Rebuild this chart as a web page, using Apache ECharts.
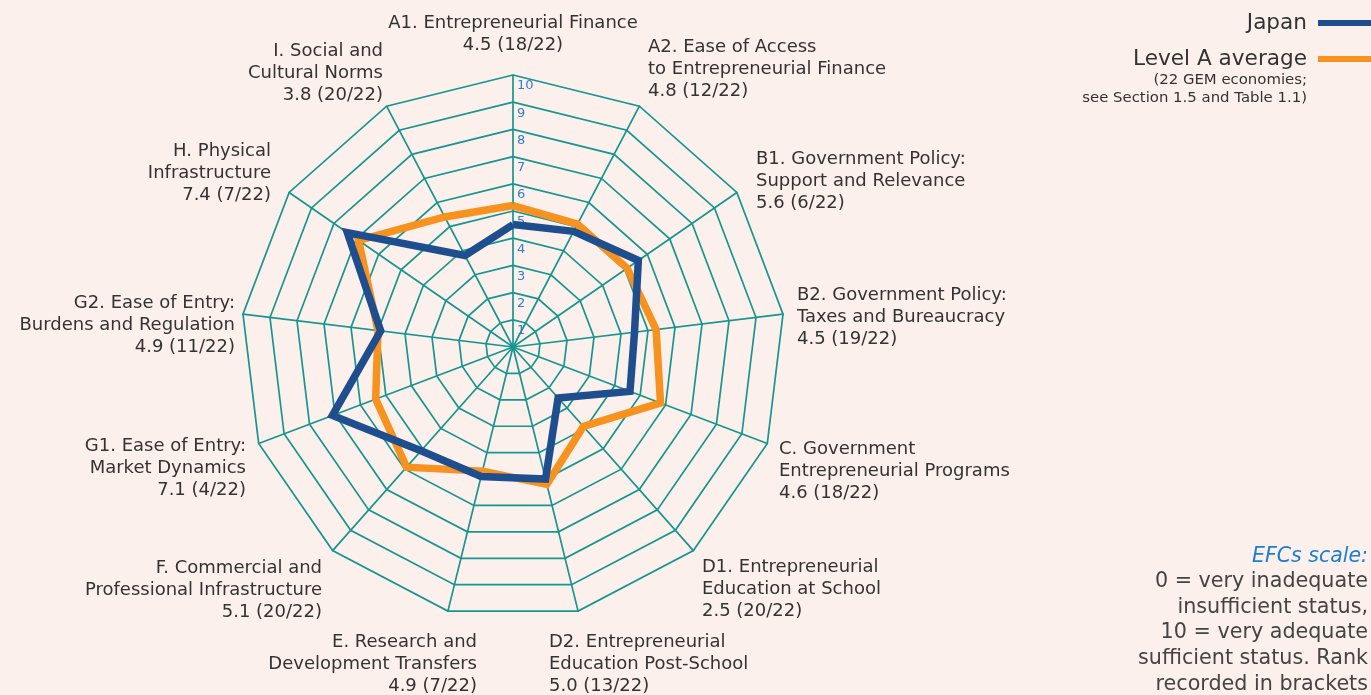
<!DOCTYPE html>
<html lang="en">
<head>
<meta charset="UTF-8">
<title>Japan EFCs</title>
<script src="https://cdn.jsdelivr.net/npm/echarts@6/dist/echarts.min.js"></script>
<style>
  html, body { margin: 0; padding: 0; background: #fcf0ec; }
  #main { width: 1371px; height: 695px; }
</style>
</head>
<body>
<div id="main"></div>
<script>
// framework conditions, clockwise from the top
var efcs = ['A1', 'A2', 'B1', 'B2', 'C', 'D1', 'D2', 'E', 'F', 'G1', 'G2', 'H', 'I'];
var japan = [4.5, 4.8, 5.6, 4.5, 4.6, 2.5, 5.0, 4.9, 5.1, 7.1, 4.9, 7.4, 3.8];
var levelA = [5.2, 5.1, 5.1, 5.3, 5.8, 3.9, 5.2, 4.7, 5.9, 5.4, 5.0, 6.9, 5.4];
var ringTicks = [1, 2, 3, 4, 5, 6, 7, 8, 9, 10];

var labels = [
  'A1. Entrepreneurial Finance\n4.5 (18/22)',
  'A2. Ease of Access\nto Entrepreneurial Finance\n4.8 (12/22)',
  'B1. Government Policy:\nSupport and Relevance\n5.6 (6/22)',
  'B2. Government Policy:\nTaxes and Bureaucracy\n4.5 (19/22)',
  'C. Government\nEntrepreneurial Programs\n4.6 (18/22)',
  'D1. Entrepreneurial\nEducation at School\n2.5 (20/22)',
  'D2. Entrepreneurial\nEducation Post-School\n5.0 (13/22)',
  'E. Research and\nDevelopment Transfers\n4.9 (7/22)',
  'F. Commercial and\nProfessional Infrastructure\n5.1 (20/22)',
  'G1. Ease of Entry:\nMarket Dynamics\n7.1 (4/22)',
  'G2. Ease of Entry:\nBurdens and Regulation\n4.9 (11/22)',
  'H. Physical\nInfrastructure\n7.4 (7/22)',
  'I. Social and\nCultural Norms\n3.8 (20/22)'
];
// where each label block sits: [x, top, align]
var labelPos = [
  [513, 12, 'center'], [648, 36, 'left'], [756, 148, 'left'], [797, 284, 'left'],
  [779, 438, 'left'], [702, 556, 'left'], [549, 631, 'left'], [477, 631, 'right'],
  [322, 557, 'right'], [246, 435, 'right'], [235, 292, 'right'], [271, 140, 'right'],
  [383, 40, 'right']
];

var FONT = '"DejaVu Sans", sans-serif';
var TEAL = '#17958f';

// echarts radar runs counter-clockwise, so flip everything after the first axis
function ccw(arr) { return [arr[0]].concat(arr.slice(1).reverse()); }

var indicator = ccw(efcs).map(function (n) { return { name: n, min: 0, max: 10 }; });

var graphics = labels.map(function (t, i) {
  return {
    type: 'text', x: labelPos[i][0], y: labelPos[i][1],
    style: { text: t, fill: '#333', fontSize: 18, fontFamily: FONT, lineHeight: 22,
             align: labelPos[i][2], verticalAlign: 'top' }
  };
});
graphics.push({
  type: 'text', x: 1307, y: 71,
  style: { text: '(22 GEM economies;\nsee Section 1.5 and Table 1.1)', fill: '#333',
           fontSize: 14.9, fontFamily: FONT, lineHeight: 18, align: 'right', verticalAlign: 'top' }
});
graphics.push({
  type: 'text', x: 1368, y: 544,
  style: { text: 'EFCs scale:', fill: '#1a7fcf', fontSize: 20.5, fontStyle: 'italic',
           fontFamily: FONT, lineHeight: 25, align: 'right', verticalAlign: 'top' }
});
graphics.push({
  type: 'text', x: 1368, y: 569,
  style: { text: '0 = very inadequate\ninsufficient status,\n10 = very adequate\nsufficient status. Rank\nrecorded in brackets',
           fill: '#444', fontSize: 20.7, fontFamily: FONT, lineHeight: 25.6, align: 'right', verticalAlign: 'top' }
});

var chart = echarts.init(document.getElementById('main'));
chart.setOption({
  backgroundColor: '#fcf0ec',
  animation: false,
  legend: {
    data: ['Japan', 'Level A average'],
    orient: 'vertical', right: 0, top: 12, align: 'right', padding: 0,
    itemWidth: 53, itemHeight: 6, itemGap: 14, icon: 'rect',
    textStyle: { fontSize: 21.6, color: '#333', fontFamily: FONT, padding: [0, 6, 0, 0] }
  },
  radar: {
    center: [513, 347], radius: 272, startAngle: 90, splitNumber: 10, shape: 'polygon',
    indicator: indicator,
    axisName: { show: false },
    splitArea: { show: false },
    splitLine: { lineStyle: { color: TEAL, width: 1.7 } },
    axisLine: { lineStyle: { color: TEAL, width: 1.7 } }
  },
  // ring numbers along the top axis
  grid: { left: 513, top: 75, width: 1, height: 272 },
  xAxis: { type: 'value', show: false },
  yAxis: {
    type: 'value', min: 0, max: 10, interval: 1,
    axisLine: { show: false }, axisTick: { show: false }, splitLine: { show: false },
    axisLabel: {
      inside: true, margin: 4, color: '#2f80d0', fontSize: 13, fontFamily: FONT,
      verticalAlign: 'top', lineHeight: 22,
      formatter: function (v) { return ringTicks.indexOf(v) >= 0 ? String(v) : ''; }
    }
  },
  series: [{
    type: 'radar',
    symbol: 'none',
    data: [
      { name: 'Level A average', value: ccw(levelA),
        lineStyle: { color: '#f7921e', width: 7.5, join: 'miter' }, itemStyle: { color: '#f7921e' } },
      { name: 'Japan', value: ccw(japan),
        lineStyle: { color: '#1f4e8f', width: 7.5, join: 'miter' }, itemStyle: { color: '#1f4e8f' } }
    ]
  }],
  graphic: graphics
});
</script>
</body>
</html>
